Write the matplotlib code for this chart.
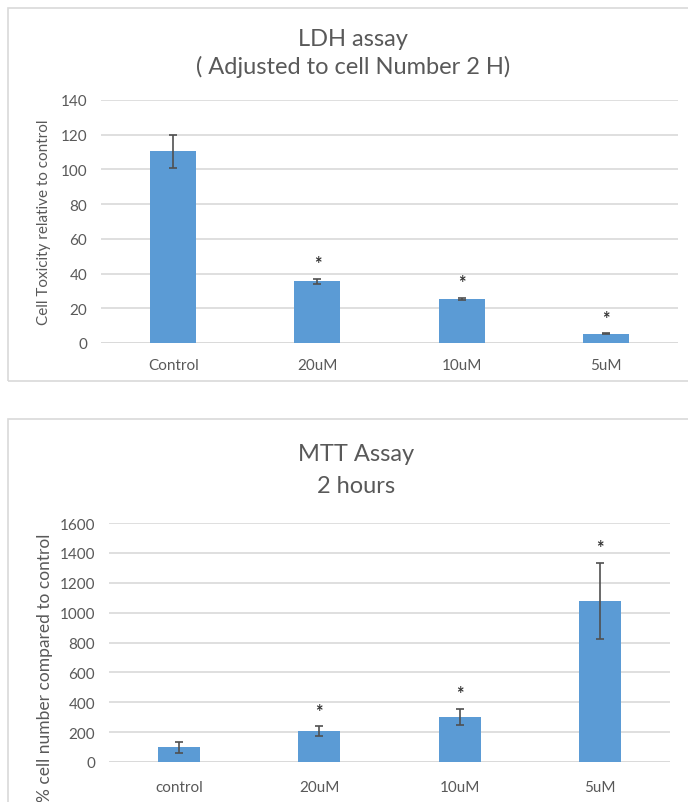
import matplotlib
matplotlib.use("Agg")
import matplotlib.pyplot as plt
from matplotlib.patches import Rectangle

plt.rcParams['font.family'] = ['Lato', 'DejaVu Sans']

# LDH assay data
ldh_labels = ['Control', '20uM', '10uM', '5uM']
ldh_values = [110.5, 35.5, 25.2, 5.2]
ldh_err = [9.5, 1.5, 0.6, 0.3]
ldh_sig = ['', '*', '*', '*']

# MTT assay data
mtt_labels = ['control', '20uM', '10uM', '5uM']
mtt_values = [98, 207, 300, 1078]
mtt_err = [38, 32, 55, 256]
mtt_sig = ['', '*', '*', '*']

W, H = 688, 803
bar_color = '#5b9bd5'
text_color = '#595959'
grid_color = '#d9d9d9'

fig = plt.figure(figsize=(W / 100, H / 100), dpi=100)

# chart area borders (like Excel chart boxes)
fig.patches.append(Rectangle((8 / W, 1 - 382 / H), 690 / W, 373 / H,
                             transform=fig.transFigure, fill=False,
                             edgecolor=grid_color, linewidth=1.2))
fig.patches.append(Rectangle((8 / W, -0.1), 690 / W, 0.1 + 1 - 420 / H,
                             transform=fig.transFigure, fill=False,
                             edgecolor=grid_color, linewidth=1.2))


def draw(ax, labels, values, err, sig, ymax, step, width, star_off):
    x = range(len(labels))
    ax.bar(x, values, width=width, color=bar_color, zorder=3)
    ax.errorbar(x, values, yerr=err, fmt='none', ecolor='#505050',
                elinewidth=1.2, capsize=3, capthick=1.2, zorder=4)
    for i in x:
        if sig[i]:
            ax.annotate(sig[i], (i, values[i] + err[i]), xytext=(0, star_off),
                        textcoords='offset points', ha='center', va='center',
                        fontsize=13, fontweight='bold', color='#333333')
    ax.set_xlim(-0.5, len(labels) - 0.5)
    ax.set_ylim(0, ymax)
    ax.set_yticks(range(0, ymax + 1, step))
    ax.yaxis.grid(True, color=grid_color, linewidth=1.2, zorder=0)
    ax.set_axisbelow(True)
    for s in ax.spines.values():
        s.set_visible(False)
    ax.axhline(0, color=grid_color, linewidth=1.2, zorder=1)
    ax.tick_params(length=0, labelsize=11, colors=text_color, pad=10)
    ax.set_xticks(list(x))
    ax.set_xticklabels(labels)


ax1 = fig.add_axes([101 / W, 1 - 344 / H, 577 / W, 243 / H])
draw(ax1, ldh_labels, ldh_values, ldh_err, ldh_sig, 140, 20, 0.32, 11)
ax1.tick_params(axis='x', pad=11)
ax1.set_ylabel('Cell Toxicity relative to control', fontsize=11, color=text_color)
ax1.yaxis.set_label_coords(-0.087, 0.5)
fig.text(353 / W, 1 - 39 / H, 'LDH assay', fontsize=17, color=text_color,
         ha='center', va='center')
fig.text(353 / W, 1 - 67 / H, '( Adjusted to cell Number 2 H)', fontsize=17,
         color=text_color, ha='center', va='center')

ax2 = fig.add_axes([109 / W, 1 - 763 / H, 561 / W, 239 / H])
draw(ax2, mtt_labels, mtt_values, mtt_err, mtt_sig, 1600, 200, 0.30, 11)
ax2.tick_params(axis='x', pad=13)
ax2.set_ylabel('% cell number compared to control', fontsize=12.5, color=text_color)
ax2.yaxis.set_label_coords(-0.10, 0.4)
fig.text(356 / W, 1 - 455 / H, 'MTT Assay', fontsize=17, color=text_color,
         ha='center', va='center')
fig.text(356 / W, 1 - 487 / H, '2 hours', fontsize=17, color=text_color,
         ha='center', va='center')

fig.savefig('out.png', dpi=100)
